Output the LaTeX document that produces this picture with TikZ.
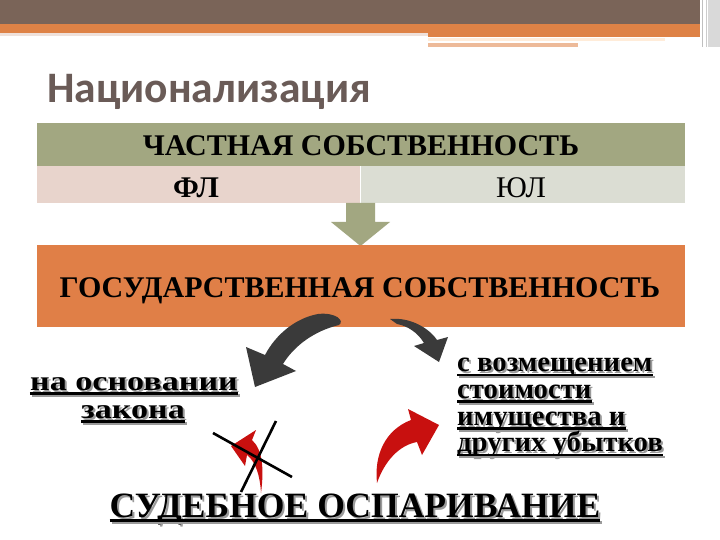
\documentclass[tikz,border=0pt]{standalone}
\usepackage{fontspec}
\usepackage{graphicx}
\setmainfont{Liberation Serif}
\newfontfamily\titlefont{Carlito}
\definecolor{barbrown}{HTML}{7A6458}
\definecolor{barorange}{HTML}{DE8246}
\definecolor{olive}{HTML}{A2A781}
\definecolor{pinkcell}{HTML}{E8D4CC}
\definecolor{greycell}{HTML}{DBDDD3}
\definecolor{boxorange}{HTML}{E07F47}
\definecolor{titlegrey}{HTML}{6A5B57}
\definecolor{darkarrow}{HTML}{3A3A3A}
\definecolor{redarrow}{HTML}{C8100F}
\definecolor{shadowgrey}{HTML}{9A9A9A}
\tikzset{
  txt/.style={inner sep=0pt, anchor=base},
  bigcaps/.style={txt, font=\fontsize{30}{34}\selectfont\bfseries},
  cell/.style={txt, font=\fontsize{30}{34}\selectfont},
  ultext/.style={txt, font=\fontsize{28.7}{32}\selectfont\bfseries},
  ulshadow/.style={ultext, text=shadowgrey},
  lefttext/.style={txt, font=\fontsize{27.5}{32}\selectfont\bfseries},
  leftshadow/.style={lefttext, text=shadowgrey},
  bottomtext/.style={txt, font=\fontsize{35.6}{40}\selectfont\bfseries},
  bottomshadow/.style={bottomtext, text=shadowgrey},
  uline/.style={line width=2.4pt},
  ulineshadow/.style={uline, shadowgrey},
}
\newcommand\ulnode[1]{%
  \draw[ulineshadow] ([xshift=2pt,yshift=-5.5pt]#1.base west) -- ([xshift=2pt,yshift=-5.5pt]#1.base east);
  \draw[uline] ([yshift=-3.5pt]#1.base west) -- ([yshift=-3.5pt]#1.base east);}
\newcommand\wide[1]{\scalebox{1.24}[1]{#1}}
\begin{document}
\begin{tikzpicture}[x=1pt,y=-1pt]
\useasboundingbox (0,0) rectangle (720,540);
\fill[white] (0,0) rectangle (720,540);
% top decoration
\fill[barbrown] (0,0) rectangle (700,24);
\fill[barorange] (0,24) rectangle (700,33);
\fill[barorange] (428,33) rectangle (700,37);
\fill[pinkcell!70] (0,33) rectangle (428,36);
\fill[orange!15] (428,38) rectangle (665,41);
\fill[barorange!55] (428,43) rectangle (578,47);
\fill[black!15] (708,0) rectangle (720,47);
\draw[black!25, line width=1pt] (702,0) -- (702,47);
\draw[black!20, line width=1pt] (706,0) -- (706,47);
% title
\node[txt, anchor=base west, font=\titlefont\bfseries\fontsize{43.5}{47}\selectfont, text=titlegrey] (title) at (47,103) {Национализация};
% table
\fill[olive] (37,123) rectangle (685,166);
\fill[pinkcell] (37,166) rectangle (360,203);
\fill[greycell] (361,166) rectangle (685,203);
\node[bigcaps] (chast) at (361,156) {ЧАСТНАЯ СОБСТВЕННОСТЬ};
\node[bigcaps] (fl) at (196,197) {ФЛ};
\node[cell] (yul) at (521,197) {ЮЛ};
% down arrow
\fill[olive] (346,203) -- (375,203) -- (375,222) -- (390,222) -- (360.5,246) -- (331,222) -- (346,222) -- cycle;
% orange box
\fill[boxorange] (37,245) rectangle (685,327);
\node[bigcaps] (gos) at (360,297) {ГОСУДАРСТВЕННАЯ СОБСТВЕННОСТЬ};
% dark curved arrows
\fill[darkarrow] (318,314) .. controls (296,318) and (276,334) .. (265,355) -- (246,347) -- (255,387) -- (296,371) -- (283,364) .. controls (294,346) and (314,331) .. (339,325) .. controls (345,321) and (336,312) .. (318,314) -- cycle;
\fill[darkarrow] (390,319) .. controls (410,317) and (429,328) .. (437,340) -- (448,337) -- (439,362) -- (414,346) -- (424,343) .. controls (418,333) and (408,326) .. (397,324) -- cycle;
% red arrows
\fill[redarrow] (377,483) .. controls (374,455) and (385,430) .. (411,420) -- (408,409) -- (439,425) -- (422,455) -- (417,442) .. controls (400,445) and (385,460) .. (377,483) -- cycle;
\fill[redarrow] (261,493) .. controls (264,470) and (263,450) .. (252,440) -- (256,430) -- (231,446) -- (245,466) -- (247,455) .. controls (256,462) and (260,476) .. (261,493) -- cycle;
% cross
\draw[line width=2.6pt] (213,433) -- (292,477);
\draw[line width=2.6pt] (276,421) -- (241,492);
% left text
\node[leftshadow] (l1s) at (136,392) {\wide{на основании}};
\node[lefttext] (l1) at (134,390) {\wide{на основании}};
\ulnode{l1}
\node[leftshadow] (l2s) at (135,420) {\wide{закона}};
\node[lefttext] (l2) at (133,418) {\wide{закона}};
\ulnode{l2}
% right text
\node[ulshadow, anchor=base west] (r1s) at (459,373.5) {с возмещением};
\node[ultext, anchor=base west] (r1) at (457,371.5) {с возмещением};
\ulnode{r1}
\node[ulshadow, anchor=base west] (r2s) at (459,400) {стоимости};
\node[ultext, anchor=base west] (r2) at (457,398) {стоимости};
\ulnode{r2}
\node[ulshadow, anchor=base west] (r3s) at (459,427) {имущества и};
\node[ultext, anchor=base west] (r3) at (457,425) {имущества и};
\ulnode{r3}
\node[ulshadow, anchor=base west] (r4s) at (459,453.5) {других убытков};
\node[ultext, anchor=base west] (r4) at (457,451.5) {других убытков};
\ulnode{r4}
% bottom text
\node[bottomshadow] (bs) at (357,519) {СУДЕБНОЕ ОСПАРИВАНИЕ};
\node[bottomtext] (b) at (355,517) {СУДЕБНОЕ ОСПАРИВАНИЕ};
\ulnode{b}
\end{tikzpicture}
\end{document}
